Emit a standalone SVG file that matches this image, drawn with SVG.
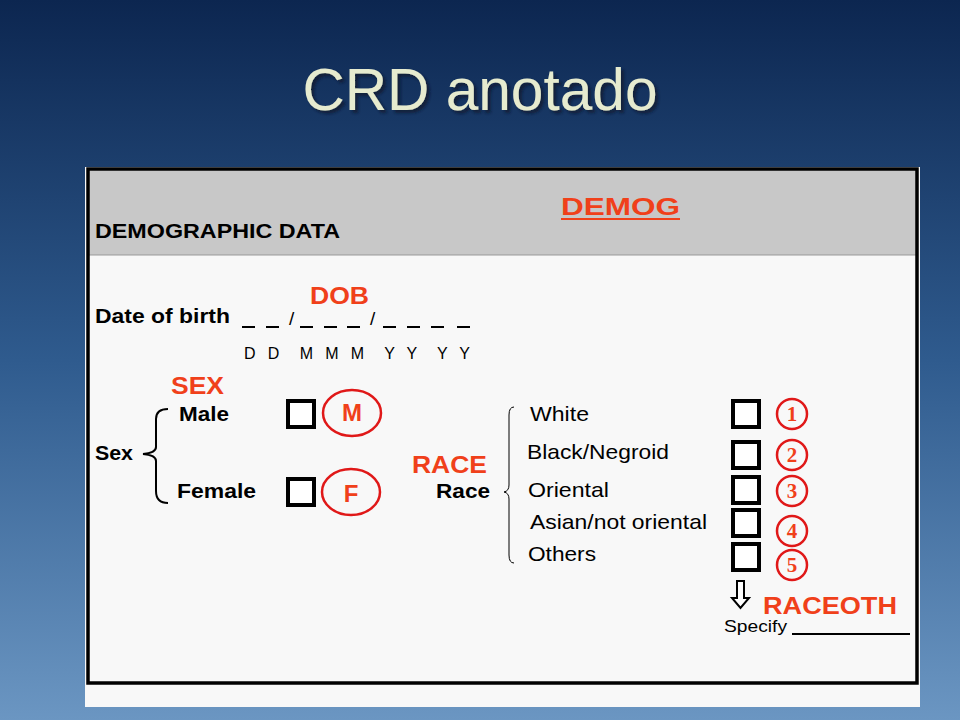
<svg xmlns="http://www.w3.org/2000/svg" width="960" height="720" viewBox="0 0 960 720">
<defs>
<linearGradient id="bg" x1="0" y1="0" x2="0" y2="1">
<stop offset="0" stop-color="#0c2650"/>
<stop offset="0.5" stop-color="#2f5b8e"/>
<stop offset="1" stop-color="#6b96c2"/>
</linearGradient>
<filter id="sh" x="-10%" y="-20%" width="120%" height="140%">
<feDropShadow dx="3" dy="3" stdDeviation="1.5" flood-color="#0a1a33" flood-opacity="0.8"/>
</filter>
<style>
.b{font-family:"Liberation Sans",Arial,sans-serif;fill:#000}
.bb{font-family:"Liberation Sans",Arial,sans-serif;font-weight:bold;fill:#000;font-size:21px}
.r{font-family:"Liberation Sans",Arial,sans-serif;font-weight:bold;fill:#f0401a;font-size:24px}
.n{font-family:"Liberation Serif","Times New Roman",serif;font-weight:bold;fill:#f0401a;font-size:21px;text-anchor:middle}
.box{fill:#fff;stroke:#000;stroke-width:4}
.oc{fill:none;stroke:#e01818;stroke-width:2.5}
.ln{stroke:#000;stroke-width:2;fill:none}
</style>
</defs>
<rect width="960" height="720" fill="url(#bg)"/>
<text x="480" y="110" font-family="'Liberation Sans',Arial,sans-serif" font-size="59" text-anchor="middle" fill="#e6ebcf" filter="url(#sh)" textLength="355" lengthAdjust="spacingAndGlyphs">CRD anotado</text>
<g id="form">
<rect x="85" y="167" width="835" height="540" fill="#f8f8f8"/>
<rect x="88" y="170" width="829" height="85" fill="#c8c8c8"/>
<line x1="88" y1="255" x2="917" y2="255" stroke="#999" stroke-width="1"/>
<rect x="88" y="169" width="829" height="514" fill="none" stroke="#000" stroke-width="3.5"/>
<text x="95" y="238" class="b" font-size="20" font-weight="bold" textLength="245" lengthAdjust="spacingAndGlyphs">DEMOGRAPHIC DATA</text>
<text x="561" y="215" class="r" font-size="26" textLength="119" lengthAdjust="spacingAndGlyphs">DEMOG</text>
<line x1="561" y1="219" x2="680" y2="219" stroke="#f0401a" stroke-width="2"/>
</g>
<g id="dob">
<text x="95" y="323" class="bb" textLength="135" lengthAdjust="spacingAndGlyphs">Date of birth</text>
<text x="310" y="304" class="r" font-size="24" textLength="59" lengthAdjust="spacingAndGlyphs">DOB</text>
<path class="ln" d="M242 327h13M266 327h13M300 327h13M324 327h13M347 327h13M383 327h13M407 327h13M431 327h13M457 327h13"/>
<text x="289" y="325" class="b" font-size="19">/</text>
<text x="370" y="325" class="b" font-size="19">/</text>
<text x="244" y="359" class="b" font-size="16" textLength="226" lengthAdjust="spacing" xml:space="preserve">D D  M M M  Y Y  Y Y</text>
</g>
<g id="sex">
<text x="171" y="394" class="r" font-size="24" textLength="53" lengthAdjust="spacingAndGlyphs">SEX</text>
<text x="95" y="460" class="bb" textLength="38" lengthAdjust="spacingAndGlyphs">Sex</text>
<path class="ln" stroke-width="3" d="M168 409q-12 0-12 10v28q0 6-13 7q13 1 13 7v30q0 12 12 12"/>
<text x="179" y="421" class="bb" textLength="50" lengthAdjust="spacingAndGlyphs">Male</text>
<text x="177" y="498" class="bb" textLength="79" lengthAdjust="spacingAndGlyphs">Female</text>
<rect x="288" y="401" width="26" height="26" class="box"/>
<rect x="288" y="479" width="26" height="26" class="box"/>
<ellipse cx="352" cy="413" rx="29" ry="23" class="oc"/>
<text x="352" y="421" class="r" font-size="23" text-anchor="middle">M</text>
<ellipse cx="351" cy="492" rx="29" ry="23" class="oc"/>
<text x="351" y="502" class="r" font-size="23" text-anchor="middle">F</text>
</g>
<g id="race">
<text x="412" y="473" class="r" font-size="24" textLength="75" lengthAdjust="spacingAndGlyphs">RACE</text>
<text x="436" y="498" class="bb" textLength="54" lengthAdjust="spacingAndGlyphs">Race</text>
<path fill="none" stroke="#000" stroke-width="1" d="M514 407q-5 0-5 8v70q0 6-5 7q5 1 5 7v56q0 8 5 8"/>
<g class="b" font-size="21">
<text x="530" y="421" textLength="59" lengthAdjust="spacingAndGlyphs">White</text>
<text x="527" y="459" textLength="142" lengthAdjust="spacingAndGlyphs">Black/Negroid</text>
<text x="528" y="497" textLength="81" lengthAdjust="spacingAndGlyphs">Oriental</text>
<text x="530" y="529" textLength="177" lengthAdjust="spacingAndGlyphs">Asian/not oriental</text>
<text x="528" y="561" textLength="68" lengthAdjust="spacingAndGlyphs">Others</text>
</g>
<rect x="733" y="401" width="26" height="26" class="box"/>
<rect x="733" y="442" width="26" height="26" class="box"/>
<rect x="733" y="477" width="26" height="26" class="box"/>
<rect x="733" y="510" width="26" height="26" class="box"/>
<rect x="733" y="544" width="26" height="26" class="box"/>
<g>
<circle cx="792" cy="414" r="15" class="oc"/><text x="792" y="421" class="n">1</text>
<circle cx="792" cy="455" r="15" class="oc"/><text x="792" y="462" class="n">2</text>
<circle cx="792" cy="491" r="15" class="oc"/><text x="792" y="498" class="n">3</text>
<circle cx="792" cy="531" r="15" class="oc"/><text x="792" y="538" class="n">4</text>
<circle cx="792" cy="565" r="15" class="oc"/><text x="792" y="572" class="n">5</text>
</g>
<path fill="#fff" stroke="#000" stroke-width="2" d="M737 581h7v17h5l-8.5 10l-8.5-10h5z"/>
<text x="763" y="614" class="r" font-size="24" textLength="134" lengthAdjust="spacingAndGlyphs">RACEOTH</text>
<text x="724" y="632" class="b" font-size="17" textLength="63" lengthAdjust="spacingAndGlyphs">Specify</text>
<line x1="792" y1="634" x2="910" y2="634" stroke="#000" stroke-width="2"/>
</g>
</svg>
